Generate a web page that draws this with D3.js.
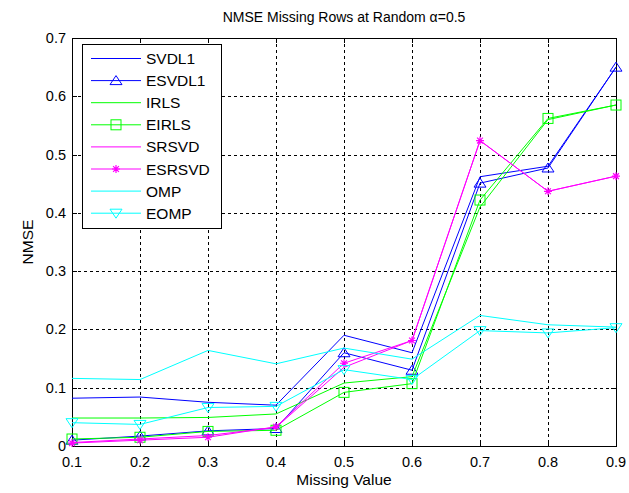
<!DOCTYPE html>
<html>
<head>
<meta charset="utf-8">
<script src="https://cdn.jsdelivr.net/npm/d3@7"></script>
<style>
  body { margin: 0; background: #fff; }
  text { font-family: Arial, "Liberation Sans", sans-serif; fill: #000; }
</style>
</head>
<body>
<svg id="chart"></svg>
<script>
var w = 629;
var h = 493;

// data
var missing = [0.1, 0.2, 0.3, 0.4, 0.5, 0.6, 0.7, 0.8, 0.9];
var svdl1  = [0.082, 0.084, 0.075, 0.070, 0.190, 0.160, 0.462, 0.480, 0.650];
var esvdl1 = [0.010, 0.017, 0.026, 0.030, 0.160, 0.130, 0.451, 0.477, 0.650];
var irls   = [0.048, 0.048, 0.049, 0.055, 0.108, 0.119, 0.410, 0.560, 0.585];
var eirls  = [0.012, 0.015, 0.025, 0.027, 0.092, 0.107, 0.422, 0.562, 0.585];
var srsvd  = [0.006, 0.012, 0.018, 0.032, 0.135, 0.181, 0.524, 0.437, 0.463];
var esrsvd = [0.005, 0.010, 0.015, 0.033, 0.142, 0.181, 0.524, 0.437, 0.463];
var omp    = [0.116, 0.114, 0.164, 0.141, 0.168, 0.149, 0.224, 0.208, 0.204];
var eomp   = [0.040, 0.037, 0.066, 0.068, 0.131, 0.114, 0.198, 0.194, 0.203];

var xTicks = [0.1, 0.2, 0.3, 0.4, 0.5, 0.6, 0.7, 0.8, 0.9];
var yTicks = [0, 0.1, 0.2, 0.3, 0.4, 0.5, 0.6, 0.7];

var series = [
  { name: "SVDL1",  values: svdl1,  color: "#0000ff", marker: null },
  { name: "ESVDL1", values: esvdl1, color: "#0000ff", marker: "up" },
  { name: "IRLS",   values: irls,   color: "#00ff00", marker: null },
  { name: "EIRLS",  values: eirls,  color: "#00ff00", marker: "square" },
  { name: "SRSVD",  values: srsvd,  color: "#ff00ff", marker: null },
  { name: "ESRSVD", values: esrsvd, color: "#ff00ff", marker: "star" },
  { name: "OMP",    values: omp,    color: "#00ffff", marker: null },
  { name: "EOMP",   values: eomp,   color: "#00ffff", marker: "down" }
];

var pLeft = 72, pRight = 616, pTop = 38, pBottom = 446;

var svg = d3.select("#chart")
  .attr("width", w)
  .attr("height", h);

svg.append("rect").attr("width", w).attr("height", h).attr("fill", "#fff");

var x = d3.scaleLinear().domain([0.1, 0.9]).range([pLeft, pRight]);
var y = d3.scaleLinear().domain([0, 0.7]).range([pBottom, pTop]);

function px(v) { return Math.round(v) + 0.5; }

//dashed grid
var grid = svg.append("g");
xTicks.slice(1, -1).forEach(function (t) {
  grid.append("line")
    .attr("x1", px(x(t))).attr("x2", px(x(t)))
    .attr("y1", pTop).attr("y2", pBottom)
    .attr("stroke", "#000").attr("stroke-dasharray", "3,3");
});
yTicks.slice(1).forEach(function (t) {
  grid.append("line")
    .attr("x1", pLeft).attr("x2", pRight)
    .attr("y1", px(y(t))).attr("y2", px(y(t)))
    .attr("stroke", "#000").attr("stroke-dasharray", "3,3");
});

//inward ticks on all four sides
var tickLen = 5;
xTicks.forEach(function (t) {
  svg.append("line").attr("x1", px(x(t))).attr("x2", px(x(t)))
    .attr("y1", pBottom).attr("y2", pBottom - tickLen).attr("stroke", "#000");
  svg.append("line").attr("x1", px(x(t))).attr("x2", px(x(t)))
    .attr("y1", pTop).attr("y2", pTop + tickLen).attr("stroke", "#000");
  svg.append("text")
    .attr("x", x(t)).attr("y", pBottom + 21)
    .attr("text-anchor", "middle")
    .attr("font-size", 14.5)
    .text(d3.format(".1f")(t));
});
yTicks.forEach(function (t) {
  svg.append("line").attr("x1", pLeft).attr("x2", pLeft + tickLen)
    .attr("y1", px(y(t))).attr("y2", px(y(t))).attr("stroke", "#000");
  svg.append("line").attr("x1", pRight).attr("x2", pRight - tickLen)
    .attr("y1", px(y(t))).attr("y2", px(y(t))).attr("stroke", "#000");
  svg.append("text")
    .attr("x", pLeft - 6).attr("y", y(t) + 5)
    .attr("text-anchor", "end")
    .attr("font-size", 14.5)
    .text(t === 0 ? "0" : d3.format(".1f")(t));
});

//axes box
svg.append("rect")
  .attr("x", px(pLeft)).attr("y", px(pTop))
  .attr("width", pRight - pLeft).attr("height", pBottom - pTop)
  .attr("fill", "none").attr("stroke", "#000");

function drawMarker(g, type, cx, cy, color) {
  if (type === "up" || type === "down") {
    var s = type === "up" ? 1 : -1;
    g.append("path")
      .attr("d", "M" + cx + "," + (cy - 5 * s) + "L" + (cx + 6) + "," + (cy + 4 * s) +
        "L" + (cx - 6) + "," + (cy + 4 * s) + "Z")
      .attr("fill", "none").attr("stroke", color);
  } else if (type === "square") {
    g.append("rect")
      .attr("x", cx - 5).attr("y", cy - 5).attr("width", 10).attr("height", 10)
      .attr("fill", "none").attr("stroke", color);
  } else if (type === "star") {
    var r = 4, d = 2.9;
    g.append("path")
      .attr("d", "M" + (cx - r) + "," + cy + "H" + (cx + r) +
        "M" + cx + "," + (cy - r) + "V" + (cy + r) +
        "M" + (cx - d) + "," + (cy - d) + "L" + (cx + d) + "," + (cy + d) +
        "M" + (cx - d) + "," + (cy + d) + "L" + (cx + d) + "," + (cy - d))
      .attr("fill", "none").attr("stroke", color).attr("stroke-width", 1.2);
  }
}

var line = d3.line()
  .x(function (d, i) { return x(missing[i]); })
  .y(function (d) { return y(d); });

var plot = svg.append("g");
series.forEach(function (s) {
  plot.append("path")
    .datum(s.values)
    .attr("d", line)
    .attr("fill", "none")
    .attr("stroke", s.color)
    .attr("stroke-width", 1);
  if (s.marker) {
    s.values.forEach(function (v, i) {
      drawMarker(plot, s.marker, x(missing[i]), y(v), s.color);
    });
  }
});

//legend
var lg = svg.append("g");
lg.append("rect")
  .attr("x", 82.5).attr("y", 44.5).attr("width", 139).attr("height", 184)
  .attr("fill", "#fff").attr("stroke", "#000");
series.forEach(function (s, i) {
  var ly = 58.5 + i * 22.1;
  lg.append("line")
    .attr("x1", 91).attr("x2", 141).attr("y1", ly).attr("y2", ly)
    .attr("stroke", s.color);
  if (s.marker) drawMarker(lg, s.marker, 116, ly, s.color);
  lg.append("text")
    .attr("x", 146).attr("y", ly + 5.5)
    .attr("font-size", 15.5)
    .text(s.name);
});

svg.append("text")
  .attr("x", (pLeft + pRight) / 2).attr("y", 22)
  .attr("text-anchor", "middle")
  .attr("font-size", 14)
  .text("NMSE Missing Rows at Random \u03b1=0.5");

svg.append("text")
  .attr("x", (pLeft + pRight) / 2).attr("y", 485)
  .attr("text-anchor", "middle")
  .attr("font-size", 15.5)
  .text("Missing Value");

svg.append("text")
  .attr("transform", "translate(33," + ((pTop + pBottom) / 2) + ") rotate(-90)")
  .attr("text-anchor", "middle")
  .attr("font-size", 15.5)
  .text("NMSE");
</script>
</body>
</html>
